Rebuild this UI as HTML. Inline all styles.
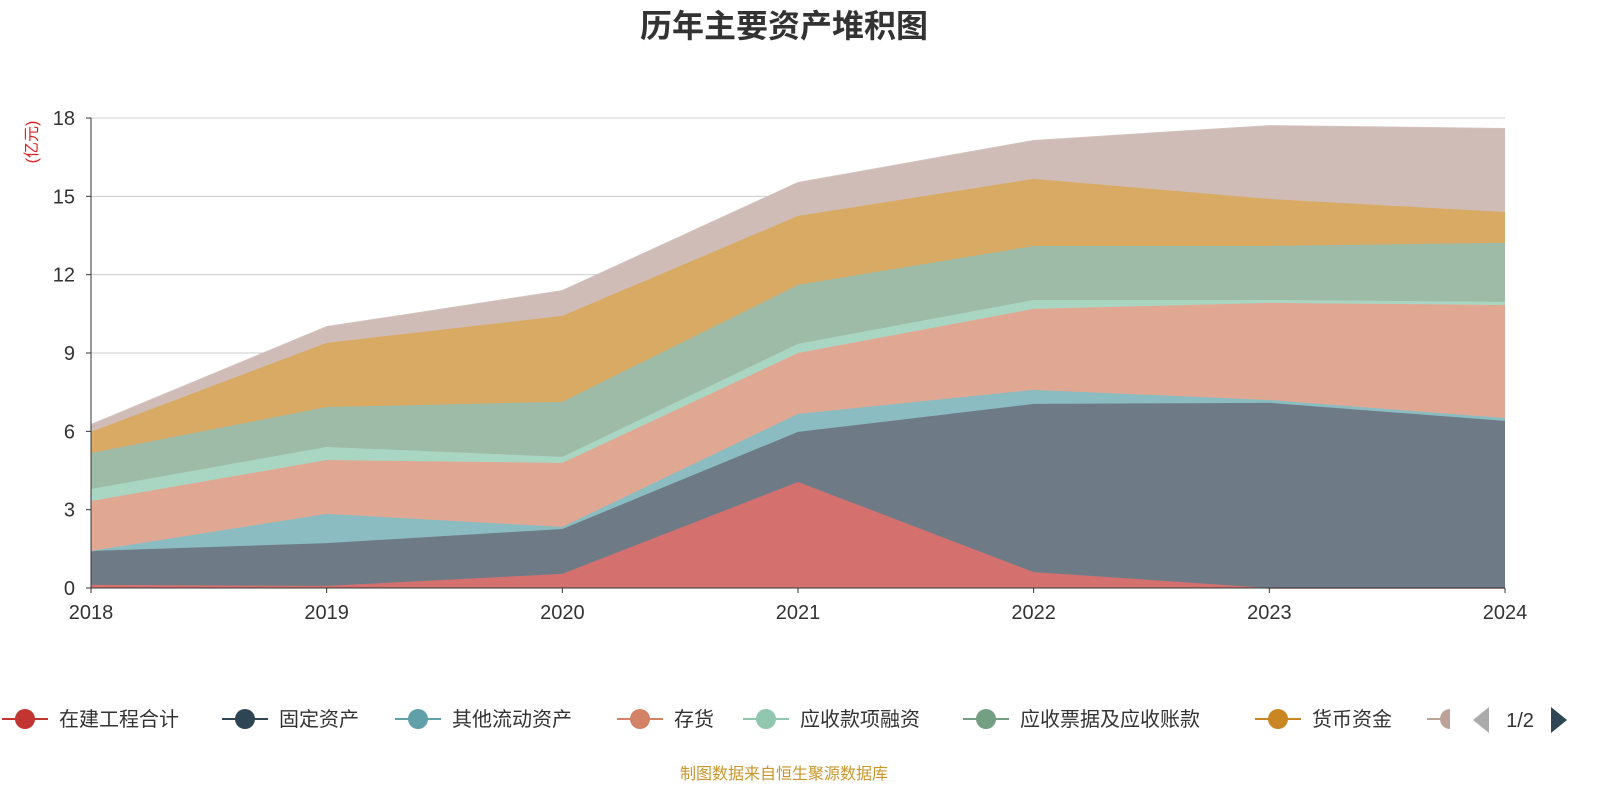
<!DOCTYPE html>
<html><head><meta charset="utf-8">
<style>
body{margin:0;width:1600px;height:800px;background:#fff;overflow:hidden;font-family:"Liberation Sans","Noto Sans CJK SC",sans-serif;}
svg text{font-family:"Liberation Sans","Noto Sans CJK SC",sans-serif;}
</style></head>
<body>
<svg id="chart" width="1600" height="800">
<text x="784" y="37" text-anchor="middle" font-size="32" font-weight="bold" fill="#333">历年主要资产堆积图</text>
<text transform="translate(37,142) rotate(-90)" text-anchor="middle" font-size="16" fill="#e02020">(亿元)</text>
<g id="grid"></g>
<g id="areas"></g>
<g id="axes"></g>
<g id="legend"></g>
<text x="784" y="779" text-anchor="middle" font-size="16" fill="#c8962a">制图数据来自恒生聚源数据库</text>
</svg>
<script>
const years=['2018','2019','2020','2021','2022','2023','2024'];
const yTicks=[0,3,6,9,12,15,18];
const seriesNames=['在建工程合计','固定资产','其他流动资产','存货','应收款项融资','应收票据及应收账款','货币资金','其他'];
const sConstruction=[0.12,0.08,0.54,4.06,0.61,0,0];
const sFixed=[1.30,1.64,1.72,1.92,6.44,7.09,6.40];
const sOtherCurrent=[0,1.12,0.08,0.69,0.54,0.11,0.11];
const sInventory=[1.91,2.06,2.45,2.33,3.10,3.72,4.33];
const sReceivFin=[0.46,0.50,0.23,0.35,0.34,0.11,0.12];
const sReceivables=[1.38,1.53,2.11,2.26,2.07,2.07,2.26];
const sCash=[0.81,2.46,3.29,2.64,2.57,1.80,1.18];
const sOther=[0.27,0.61,0.96,1.27,1.46,2.80,3.19];
const allSeries=[sConstruction,sFixed,sOtherCurrent,sInventory,sReceivFin,sReceivables,sCash,sOther];
const fills=['#d4706d','#6e7b87','#8bbcc1','#e0a792','#a9d6c2','#9ebba8','#d8aa63','#cfbcb7'];
const lines=['#c23531','#2f4554','#61a0a8','#d48265','#91c7ae','#749f83','#ca8622','#bda29a'];
const NS='http://www.w3.org/2000/svg';
const x0=91,x1=1505,y0=588,y1=118,yMax=18;
const X=i=>x0+(x1-x0)*i/(years.length-1);
const Y=v=>y0-(y0-y1)*v/yMax;
function mk(tag,attrs,parent){const e=document.createElementNS(NS,tag);for(const k in attrs)e.setAttribute(k,attrs[k]);parent.appendChild(e);return e;}
const grid=document.getElementById('grid'),axes=document.getElementById('axes'),areas=document.getElementById('areas'),legend=document.getElementById('legend');
yTicks.forEach(t=>{
  if(t>0){const l=mk('line',{x1:x0,x2:x1,y1:Y(t),y2:Y(t),stroke:'#ccc','stroke-width':1},grid);
  
  }
  const tx=mk('text',{x:x0-16,y:Y(t)+7,'text-anchor':'end','font-size':20,fill:'#333'},axes);tx.textContent=t;
  
  
  mk('line',{x1:x0-5,x2:x0,y1:Y(t),y2:Y(t),stroke:'#333'},axes);
});
let cum=years.map(()=>0);
allSeries.forEach((s,k)=>{
  const lower=cum.slice();cum=cum.map((c,i)=>c+s[i]);
  let d='M'+years.map((_,i)=>X(i)+','+Y(cum[i])).join(' L');
  for(let i=years.length-1;i>=0;i--)d+=' L'+X(i)+','+Y(lower[i]);
  const p=mk('path',{d:d+'Z',fill:fills[k]},areas);
  
  
  const ln=mk('polyline',{points:years.map((_,i)=>X(i)+','+Y(cum[i])).join(' '),fill:'none',stroke:fills[k],'stroke-width':1.5,opacity:0.9},areas);
  
  
});
mk('line',{x1:x0,x2:x0,y1:y1,y2:y0,stroke:'#333'},axes);
mk('line',{x1:x0,x2:x1,y1:y0,y2:y0,stroke:'#333'},axes);
years.forEach((yr,i)=>{
  mk('line',{x1:X(i),x2:X(i),y1:y0,y2:y0+5,stroke:'#333'},axes);
  const t=mk('text',{x:X(i),y:y0+31,'text-anchor':'middle','font-size':20,fill:'#333'},axes);t.textContent=yr;
  
  
});
const lx=[25,245,418,640,766,986,1278,1450];
for(let k=0;k<8;k++){
  const g=mk('g',{},legend);
  
  
  mk('line',{x1:lx[k]-23,x2:k==7?lx[k]:lx[k]+23,y1:719,y2:719,stroke:lines[k],'stroke-width':2},g);
  if(k<7){mk('circle',{cx:lx[k],cy:719,r:10,fill:lines[k]},g);
    const t=mk('text',{x:lx[k]+34,y:726,'font-size':20,fill:'#333'},g);t.textContent=seriesNames[k];}
  else mk('path',{d:`M${lx[k]-10},719 a10,10 0 0 1 10,-10 v20 a10,10 0 0 1 -10,-10z`,fill:lines[k]},g);
}
const pl=mk('path',{d:'M1489,707 L1489,733 L1473,720Z',fill:'#aaa'},legend);


const pt=mk('text',{x:1520,y:727,'text-anchor':'middle','font-size':20,fill:'#333'},legend);pt.textContent='1/2';


const pr=mk('path',{d:'M1551,707 L1551,733 L1567,720Z',fill:'#2f4554'},legend);


</script>
</body></html>
